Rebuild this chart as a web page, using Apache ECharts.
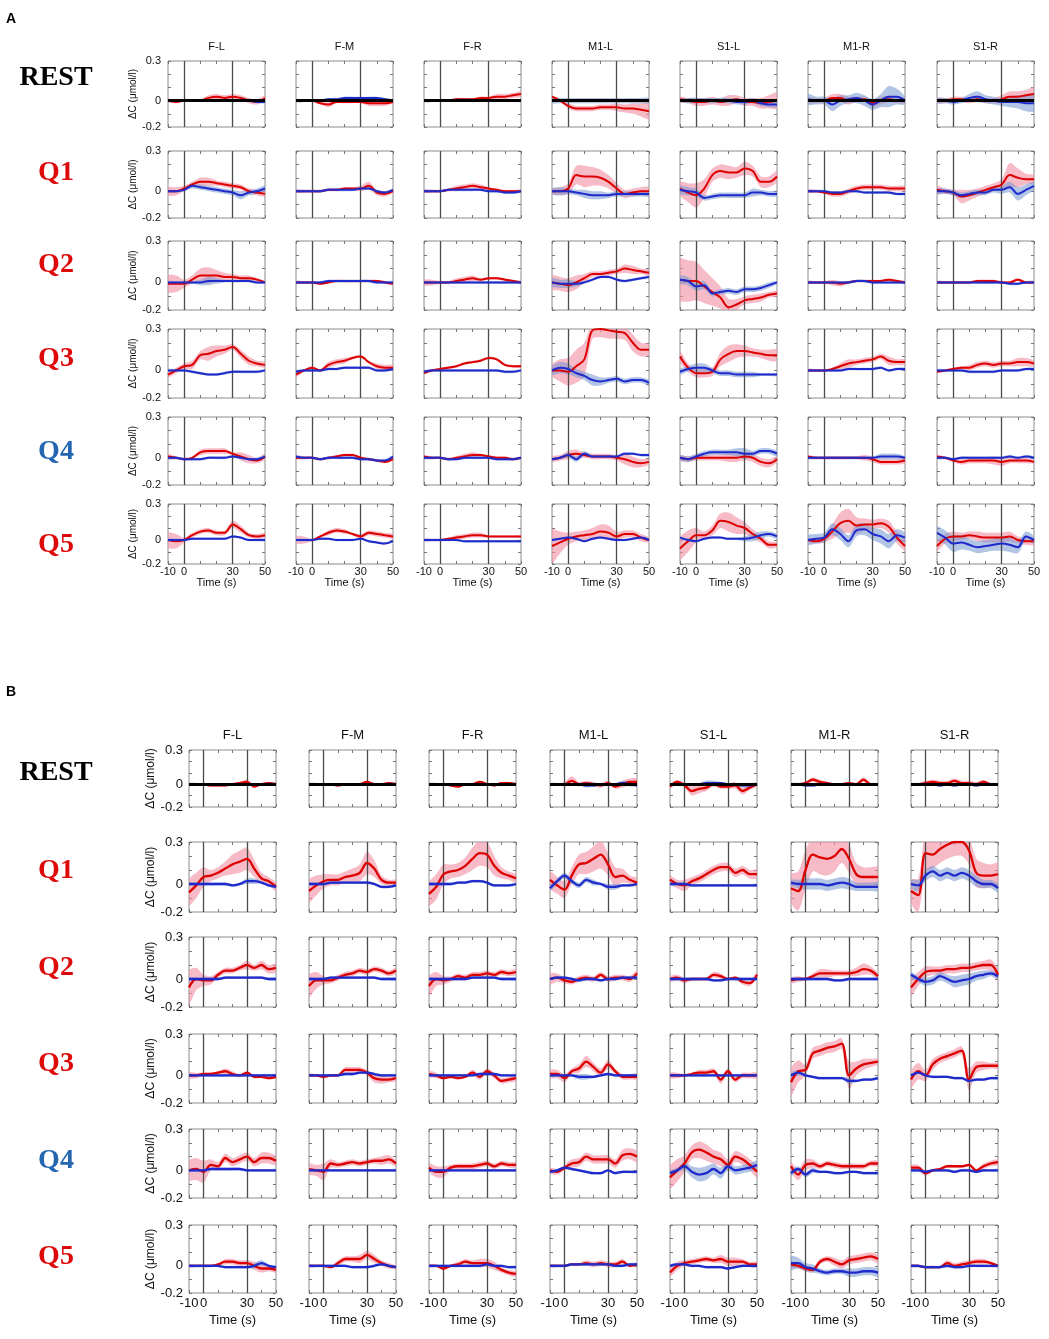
<!DOCTYPE html>
<html>
<head>
<meta charset="utf-8">
<title>Hemodynamic responses</title>
<script src="https://cdn.jsdelivr.net/npm/echarts@6.0.0/dist/echarts.min.js"></script>
<style>
  html, body { margin: 0; padding: 0; background: #fff; }
  #main { width: 1049px; height: 1339px; }
</style>
</head>
<body>
<div id="main"></div>
<script>
// time axis (s) and labels
var timeS = [-10, -5, 0, 5, 10, 15, 20, 25, 30, 35, 40, 45, 50];
var regions = ['F-L', 'F-M', 'F-R', 'M1-L', 'S1-L', 'M1-R', 'S1-R'];
var conditions = ['REST', 'Q1', 'Q2', 'Q3', 'Q4', 'Q5'];
var xTickLabels = [-10, 0, 30, 50];
var yTickLabels = [0.3, 0, -0.2];

// all values below in 0.01 umol/l, one row per region (F-L .. S1-R)
// ---------- panel A ----------
var aRestRed = [
  [0,-1,0,0,0,2,3,2,3,2,0,-1,2],
  [0,0,0,-2,-3,-1,-1,-1,-1,-2,-2,-2,-1],
  [0,0,0,0,1,1,1,2,2,3,3,4,5],
  [3,0,-4,-6,-6,-6,-5,-5,-5,-6,-6,-7,-8],
  [1,0,-1,-1,0,-1,0,1,-1,-1,-2,-1,0],
  [0,0,0,2,2,0,1,1,-2,0,1,0,0],
  [0,0,1,1,0,1,0,0,1,3,3,4,5]
];
var aRestRedBand = [
  [1,1,1,1,1,2,2,2,2,2,2,2,2],
  [1,1,1,1,2,1,1,1,1,2,2,2,1],
  [1,1,1,1,1,1,1,1,1,2,2,2,2],
  [1,1,2,2,2,2,2,2,3,3,4,5,6],
  [2,2,3,3,3,3,4,3,3,3,4,5,6],
  [2,2,2,3,3,3,2,2,3,3,2,2,2],
  [2,2,2,2,2,2,2,2,3,4,4,4,5]
];
var aRestBlue = [
  [0,0,0,0,0,0,0,0,0,0,0,-1,-1],
  [0,0,0,0,1,1,2,2,2,2,2,1,0],
  [0,0,0,0,0,0,0,0,0,0,0,0,0],
  [0,0,0,0,0,0,0,0,0,0,0,0,0],
  [0,0,0,0,0,0,0,-1,-1,0,-2,-3,-3],
  [1,0,0,-3,0,1,2,0,-3,0,3,3,0],
  [0,0,-1,0,2,3,1,0,-1,-1,-1,-2,-2]
];
var aRestBlueBand = [
  [1,1,1,1,1,1,1,1,1,1,1,1,1],
  [1,1,1,1,1,1,1,1,1,1,1,1,1],
  [1,1,1,1,1,1,1,1,1,1,1,1,1],
  [2,2,2,2,2,2,2,2,2,2,2,2,2],
  [1,2,2,2,2,2,2,2,2,2,2,2,2],
  [4,3,3,5,4,3,4,4,4,5,8,6,3],
  [2,2,2,2,3,4,3,3,3,4,5,6,6]
];

var aQ1Red = [
  [0,0,2,5,7,7,6,5,4,3,0,-1,-2],
  [0,0,0,0,1,1,2,2,2,4,-1,-2,0],
  [0,0,0,1,2,3,4,3,2,1,0,0,0],
  [0,0,2,12,11,11,10,7,2,-2,-1,0,0],
  [2,-1,-3,2,12,15,14,14,17,15,7,7,11],
  [0,0,-1,-2,-2,0,2,3,3,3,2,2,2],
  [1,0,-1,-4,-3,-1,1,3,5,12,10,9,9]
];
var aQ1RedBand = [
  [3,3,2,2,3,3,2,2,2,2,2,2,2],
  [1,1,1,1,1,1,1,1,2,3,2,2,1],
  [1,1,1,1,2,2,2,2,1,1,1,1,1],
  [2,3,4,7,8,7,6,5,4,3,3,3,3],
  [5,7,9,7,5,5,5,4,5,4,4,4,4],
  [1,1,1,2,2,2,2,2,2,2,2,2,2],
  [3,2,2,5,4,3,3,3,4,9,7,4,3]
];
var aQ1Blue = [
  [0,0,1,4,3,2,1,0,-1,-3,-1,0,2],
  [0,0,0,0,1,1,1,1,2,2,0,-1,1],
  [0,0,0,1,1,1,1,1,0,0,-1,-1,0],
  [0,0,0,-1,-2,-3,-3,-3,-2,-2,-2,-2,-2],
  [1,0,-1,-5,-4,-3,-3,-3,-3,-1,-1,-2,-2],
  [0,0,0,-1,-1,0,0,-1,-1,-1,-1,-2,-2],
  [0,0,-1,-3,-2,-1,-1,1,1,3,-2,1,4]
];
var aQ1BlueBand = [
  [1,1,1,2,2,2,2,2,2,3,2,2,2],
  [1,1,1,1,1,1,1,1,1,1,1,1,1],
  [1,1,1,1,1,1,1,1,1,1,1,1,1],
  [2,3,2,2,3,3,3,2,2,2,2,2,2],
  [3,3,3,2,2,2,2,2,2,3,2,2,2],
  [1,1,1,1,1,1,1,1,1,1,1,1,1],
  [2,2,2,2,2,2,2,2,3,4,5,4,3]
];

var aQ2Red = [
  [-1,-1,-1,2,5,5,5,4,4,3,3,2,0],
  [0,0,0,-1,0,1,1,1,1,1,1,0,-1],
  [0,0,0,0,1,2,3,2,3,3,2,1,0],
  [0,-1,-2,0,3,6,6,7,8,10,9,8,7],
  [2,1,1,-3,-7,-11,-18,-16,-13,-12,-11,-9,-8],
  [0,0,0,0,-1,0,1,1,1,1,2,1,0],
  [0,0,0,0,0,1,1,1,0,0,2,0,0]
];
var aQ2RedBand = [
  [6,6,3,3,5,6,4,3,2,2,2,1,1],
  [1,1,1,1,1,1,1,1,1,1,1,1,1],
  [2,2,1,1,2,2,2,1,1,1,1,1,1],
  [5,5,5,5,3,2,2,2,2,3,3,2,2],
  [15,15,14,12,10,8,6,4,3,3,3,2,2],
  [1,1,1,2,2,1,1,1,1,1,1,1,1],
  [1,1,1,1,1,1,1,1,1,1,1,1,1]
];
var aQ2Blue = [
  [0,0,0,0,0,1,1,1,1,1,1,0,0],
  [0,0,0,0,1,1,1,1,1,1,0,0,0],
  [0,0,0,0,0,0,0,0,0,0,0,0,0],
  [0,-1,-1,-1,0,2,4,4,2,1,2,3,4],
  [2,1,-3,-2,-8,-7,-6,-7,-5,-5,-4,-2,0],
  [0,0,0,0,0,0,1,1,0,0,0,0,0],
  [0,0,0,0,0,0,0,0,0,-1,-1,0,0]
];
var aQ2BlueBand = [
  [1,1,1,1,2,3,2,1,1,1,1,1,1],
  [1,1,1,1,1,1,1,1,1,1,1,1,1],
  [1,1,1,1,1,1,1,1,1,1,1,1,1],
  [3,3,3,2,1,1,1,1,1,1,1,1,1],
  [3,3,3,3,2,2,2,2,2,2,2,2,1],
  [1,1,1,1,1,1,1,1,1,1,1,1,1],
  [1,1,1,1,1,1,1,1,1,1,1,1,1]
];

var aQ3Red = [
  [-3,0,3,4,11,12,14,15,17,12,7,5,4],
  [-3,0,2,0,4,6,7,9,10,6,3,2,2],
  [-2,0,1,2,3,5,6,7,9,8,4,3,3],
  [0,0,-1,3,8,29,30,29,28,27,20,15,15],
  [10,2,-2,-2,-1,8,12,14,14,13,12,11,11],
  [0,0,0,1,3,5,6,7,8,10,7,6,6],
  [-1,0,1,2,2,4,5,4,5,5,6,6,5]
];
var aQ3RedBand = [
  [2,2,2,3,3,5,4,3,2,3,3,2,2],
  [2,1,1,1,2,2,2,1,1,1,2,2,2],
  [1,1,1,1,1,1,1,1,1,1,1,1,1],
  [4,8,10,12,12,6,6,6,5,5,6,5,4],
  [4,3,3,3,3,5,6,5,4,3,3,4,4],
  [1,1,1,1,2,3,2,2,2,2,3,2,2],
  [1,1,1,1,2,2,2,2,2,2,3,3,2]
];
var aQ3Blue = [
  [0,0,0,-1,-2,-3,-3,-2,-1,-1,-1,-1,0],
  [-1,0,0,0,1,1,2,2,2,2,0,0,1],
  [-1,0,0,0,0,0,0,0,0,0,-1,-1,0],
  [0,2,1,-2,-4,-7,-8,-7,-6,-8,-7,-7,-9],
  [-1,1,2,2,0,-2,-2,-3,-3,-3,-3,-3,-3],
  [0,0,0,0,0,1,1,1,1,2,0,1,1],
  [0,0,0,0,-1,-1,-1,-1,0,0,0,1,1]
];
var aQ3BlueBand = [
  [1,1,1,1,1,1,1,1,1,1,1,1,1],
  [1,1,1,1,1,1,1,1,1,1,1,1,1],
  [1,1,1,1,1,1,1,1,1,1,1,1,1],
  [3,4,4,3,3,4,3,2,2,2,2,2,2],
  [2,2,3,3,2,2,2,2,2,2,1,1,1],
  [1,1,1,1,1,1,1,1,1,1,1,1,1],
  [1,1,1,1,1,1,1,1,1,1,1,1,1]
];

var aQ4Red = [
  [1,0,-1,0,4,5,5,5,3,1,-1,-2,1],
  [0,0,0,-1,0,1,2,2,0,-1,-2,-3,-1],
  [1,0,0,-1,0,1,2,2,1,0,0,-1,0],
  [-1,0,2,3,2,1,1,1,0,-1,-3,-4,-3],
  [0,-1,0,0,0,0,0,0,1,0,-3,-4,-1],
  [1,0,0,0,0,0,0,0,-1,-3,-3,-3,-2],
  [1,0,-2,-3,-2,-2,-2,-2,-3,-2,-2,-2,-3]
];
var aQ4RedBand = [
  [2,1,1,1,2,2,2,2,1,3,3,2,2],
  [1,1,1,1,1,1,1,1,1,1,1,1,1],
  [1,1,1,1,1,2,2,1,1,1,1,1,1],
  [2,2,3,3,2,2,2,2,2,4,4,3,2],
  [2,2,2,2,2,2,3,3,3,3,3,3,2],
  [1,1,1,1,1,1,1,2,2,2,2,2,2],
  [1,1,1,2,2,2,2,3,3,2,2,2,1]
];
var aQ4Blue = [
  [0,0,-1,-1,-1,0,0,0,1,0,-1,-1,1],
  [1,0,0,-1,0,0,0,0,-1,-1,-2,-2,1],
  [0,0,0,-1,-1,0,0,0,0,-1,-1,-1,0],
  [-1,0,2,-1,3,1,1,1,1,3,3,2,2],
  [0,-1,1,3,4,4,4,4,3,3,5,5,3],
  [0,0,0,0,0,0,0,0,0,1,1,1,0],
  [0,0,-1,0,0,0,0,0,0,1,0,1,0]
];
var aQ4BlueBand = [
  [1,1,1,1,1,1,1,1,1,1,1,1,1],
  [1,1,1,1,1,1,1,1,1,1,1,1,1],
  [1,1,1,1,1,1,1,1,1,1,1,1,1],
  [1,1,2,2,2,1,1,1,1,1,1,1,1],
  [2,2,2,2,2,2,2,3,4,2,2,2,2],
  [1,1,1,1,1,1,1,1,1,2,2,2,1],
  [1,1,1,1,1,1,1,1,1,1,1,1,1]
];

var aQ5Red = [
  [0,-1,0,4,7,8,6,6,13,9,4,3,4],
  [0,0,0,3,6,8,7,5,3,6,5,4,3],
  [0,0,0,1,2,3,4,4,3,3,3,3,3],
  [-5,-2,1,3,4,5,7,6,3,5,5,2,0],
  [-7,-1,4,4,8,16,15,12,10,5,1,-4,-4],
  [0,-1,1,7,14,16,12,13,13,14,11,2,-5],
  [-5,1,3,3,4,3,2,2,2,3,0,-1,-1]
];
var aQ5RedBand = [
  [6,6,2,2,2,2,2,2,3,3,2,2,2],
  [3,3,1,1,2,2,2,1,2,2,2,2,2],
  [1,1,1,1,2,2,2,2,1,1,1,1,1],
  [14,9,5,4,4,5,6,6,4,3,3,3,2],
  [9,9,6,3,4,6,8,7,5,4,3,3,2],
  [2,2,3,6,9,10,7,5,4,4,5,5,4],
  [4,4,4,3,3,4,4,4,4,4,3,3,3]
];
var aQ5Blue = [
  [0,0,0,1,1,1,1,1,3,2,0,0,0],
  [0,0,0,1,1,0,0,0,1,-1,-2,-3,-1],
  [0,0,0,0,0,-1,-1,-1,-1,-1,-1,-1,-1],
  [0,1,2,1,-1,1,2,1,0,0,1,2,0],
  [2,0,-1,1,2,2,1,1,1,2,4,5,3],
  [0,1,2,9,5,-1,8,9,5,3,-1,4,2],
  [6,2,-3,-2,-4,-6,-5,-4,-3,-4,-6,3,0]
];
var aQ5BlueBand = [
  [1,1,1,1,1,1,1,1,1,1,1,1,1],
  [1,1,1,1,1,1,1,1,1,1,1,1,1],
  [1,1,1,1,1,1,1,1,1,1,1,1,1],
  [1,1,1,1,1,1,1,1,1,1,1,1,1],
  [1,1,1,1,1,1,1,1,2,3,3,2,2],
  [4,4,4,5,5,5,5,5,5,6,6,5,4],
  [5,6,7,6,5,5,5,5,6,6,5,4,3]
];

// ---------- panel B ----------
var bRestRed = [
  [0,0,0,-1,-1,-1,0,1,2,-2,0,1,0],
  [0,0,0,0,-1,0,0,0,2,0,0,1,0],
  [0,0,0,-1,-2,0,0,2,0,-1,1,1,0],
  [0,0,0,3,0,1,0,-1,1,-2,0,2,2],
  [-2,2,-1,-6,-4,-3,0,-2,-2,-1,-6,-3,0],
  [0,0,1,4,2,1,0,0,1,0,4,0,0],
  [0,0,1,2,1,1,3,1,1,0,2,0,0]
];
var bRestRedBand = [
  [1,1,1,1,1,1,1,1,2,1,1,1,1],
  [1,1,1,1,1,1,1,1,1,1,1,1,1],
  [1,1,1,1,1,1,1,1,1,1,1,1,1],
  [1,1,2,4,2,2,2,2,2,2,3,3,3],
  [2,2,2,4,4,3,2,2,2,3,3,2,2],
  [1,1,1,2,2,1,1,1,1,1,2,1,1],
  [1,1,2,2,2,2,2,2,2,2,2,1,1]
];
var bRestBlue = [
  [0,0,0,0,0,0,0,0,0,0,0,0,0],
  [0,0,0,0,0,0,0,0,0,0,0,0,0],
  [0,0,0,0,0,0,0,0,0,0,0,0,0],
  [0,0,0,0,0,-1,-1,0,0,0,1,0,-1],
  [0,0,0,0,0,1,1,1,0,0,-1,-1,0],
  [0,0,-1,-1,0,0,0,0,0,0,0,0,0],
  [0,0,0,0,-1,0,-1,0,0,-1,0,0,0]
];
var bRestBlueBand = [
  [1,1,1,1,1,1,1,1,1,1,1,1,1],
  [1,1,1,1,1,1,1,1,1,1,1,1,1],
  [1,1,1,1,1,1,1,1,1,1,1,1,1],
  [1,1,1,1,1,2,1,1,1,1,2,2,1],
  [1,1,1,1,1,2,2,1,1,1,2,2,1],
  [1,1,1,1,1,1,1,1,1,1,1,1,1],
  [1,1,1,1,1,1,1,1,1,1,1,1,1]
];

var bQ1Red = [
  [-6,-1,5,6,8,11,14,16,18,11,4,2,-2],
  [-5,-1,2,3,3,5,6,8,15,11,3,1,1],
  [-7,-2,7,9,10,13,18,22,21,13,8,6,4],
  [3,-1,-4,6,14,15,18,21,14,5,6,3,1],
  [3,0,-1,2,4,7,10,12,12,8,10,7,7],
  [-3,-5,10,21,19,18,20,25,18,7,5,5,5],
  [-5,-8,22,21,25,28,30,30,24,8,6,6,7]
];
var bQ1RedBand = [
  [9,9,7,4,4,5,7,8,8,6,4,3,3],
  [8,7,5,4,4,4,5,6,8,6,3,2,2],
  [8,9,7,5,5,6,8,9,9,7,4,3,3],
  [6,6,6,6,7,8,9,10,8,7,5,3,3],
  [3,3,4,3,3,3,3,3,3,3,3,3,3],
  [10,14,14,12,12,12,11,10,10,8,7,7,7],
  [8,12,14,10,10,10,10,10,10,10,9,8,8]
];
var bQ1Blue = [
  [0,0,0,0,0,0,-1,0,2,2,1,-1,-2],
  [0,0,0,1,1,1,1,1,1,0,-2,-2,-1],
  [0,0,0,0,1,1,2,2,1,-1,-1,-1,0],
  [-3,2,6,2,-1,3,1,0,-2,-2,-1,-1,0],
  [0,0,0,-1,-1,-1,-1,-1,-1,-1,-1,-1,-1],
  [1,0,0,0,0,-1,0,1,0,-2,-2,-2,-2],
  [0,-1,6,9,6,8,6,8,6,2,0,0,-3]
];
var bQ1BlueBand = [
  [1,1,1,1,1,1,1,1,2,2,1,1,1],
  [1,1,1,1,1,1,1,1,1,1,1,1,1],
  [1,1,1,1,1,1,1,1,1,1,1,1,1],
  [2,2,2,2,2,2,2,1,2,2,1,1,1],
  [1,1,1,1,1,1,1,1,1,1,1,1,1],
  [2,3,4,4,4,4,4,4,4,3,3,3,3],
  [3,4,4,4,4,4,4,4,4,4,3,3,3]
];

var bQ2Red = [
  [-6,0,-1,-1,3,6,6,8,10,8,10,7,8],
  [-5,-1,-1,-1,1,3,4,6,5,7,6,4,6],
  [-5,0,-1,0,2,1,3,3,4,3,5,4,5],
  [0,1,-1,-2,0,1,0,3,0,1,1,0,4],
  [0,1,-1,0,0,0,3,2,0,1,-2,-3,3],
  [-1,0,0,2,4,4,4,4,4,5,7,6,2],
  [-6,0,5,6,6,7,7,8,8,9,10,10,3]
];
var bQ2RedBand = [
  [12,8,4,3,2,2,2,2,3,2,3,3,3],
  [8,6,3,2,2,2,2,2,2,2,2,2,2],
  [7,5,3,2,2,2,2,2,2,2,2,2,2],
  [4,3,2,2,2,2,2,2,2,2,2,2,2],
  [2,2,2,1,1,1,2,2,1,1,2,2,2],
  [2,2,1,2,3,3,2,2,2,3,4,3,2],
  [6,5,4,3,3,3,3,3,3,3,3,4,4]
];
var bQ2Blue = [
  [0,0,0,0,0,1,1,1,1,1,1,0,0],
  [0,0,0,1,1,1,1,1,1,1,0,0,0],
  [0,0,0,0,0,0,1,1,1,1,0,0,0],
  [0,1,1,0,-1,0,0,-1,0,0,1,1,1],
  [0,0,0,0,0,0,-1,-1,0,0,0,0,0],
  [0,0,0,0,0,0,-1,-1,0,0,0,0,0],
  [3,0,-2,-1,2,0,-2,-1,0,2,3,4,2]
];
var bQ2BlueBand = [
  [1,1,1,1,1,1,1,1,1,1,1,1,1],
  [1,1,1,1,1,1,1,1,1,1,1,1,1],
  [1,1,1,1,1,1,1,1,1,1,1,1,1],
  [1,1,1,1,1,1,1,1,1,1,1,1,1],
  [1,1,1,1,1,1,1,1,1,1,1,1,1],
  [1,1,1,1,1,1,1,1,1,1,1,1,1],
  [2,2,3,3,3,3,4,4,4,3,3,2,2]
];

var bQ3Red = [
  [0,0,1,1,2,3,1,0,2,-1,-1,-2,-1],
  [0,0,-1,0,0,4,4,4,2,-2,-3,-3,-2],
  [1,0,-2,-1,-2,-1,2,-1,3,0,-4,-3,-2],
  [1,1,-2,3,5,10,6,2,8,3,-1,-1,-1],
  [0,0,0,1,2,2,3,-3,3,-3,0,0,0],
  [-5,3,4,16,18,20,21,23,0,5,8,9,10],
  [-3,3,0,8,12,14,16,18,-3,6,7,7,7]
];
var bQ3RedBand = [
  [2,2,1,1,1,2,2,1,1,1,1,1,1],
  [1,1,1,1,1,2,2,2,2,3,3,2,2],
  [2,2,1,1,1,1,2,2,2,2,2,2,2],
  [3,3,3,2,3,4,3,3,3,2,2,2,2],
  [2,2,1,1,2,2,2,3,2,2,2,2,2],
  [10,8,4,4,4,4,4,4,10,5,4,3,2],
  [6,6,4,4,3,3,3,3,8,4,3,2,2]
];
var bQ3Blue = [
  [0,0,0,0,0,0,0,0,0,0,0,0,0],
  [0,0,0,0,0,1,1,2,2,1,0,0,0],
  [0,0,0,0,0,0,0,1,1,1,0,0,0],
  [0,0,0,0,-1,-1,-1,0,1,0,0,0,0],
  [0,0,0,0,0,0,0,0,0,0,0,0,0],
  [0,2,0,-1,-2,-2,-2,-2,-4,-4,-3,-3,-2],
  [0,2,0,-1,-1,-1,-2,-2,-4,-3,-3,-2,-2]
];
var bQ3BlueBand = [
  [1,1,1,1,1,1,1,1,1,1,1,1,1],
  [1,1,1,1,1,1,1,1,1,1,1,1,1],
  [1,1,1,1,1,1,1,1,1,1,1,1,1],
  [1,1,1,1,2,2,1,1,1,1,1,1,1],
  [1,1,1,1,1,1,1,1,1,1,1,1,1],
  [2,2,1,1,1,1,1,1,2,1,1,1,1],
  [1,1,1,1,1,1,1,1,1,1,1,1,1]
];

var bQ4Red = [
  [0,1,-1,4,3,9,6,8,10,6,9,9,7],
  [1,0,-1,5,4,5,6,5,6,7,7,8,5],
  [2,-1,-1,2,3,3,3,4,5,3,5,4,4],
  [0,-1,2,5,6,10,8,8,8,5,11,12,10],
  [-5,0,5,13,15,13,10,8,4,10,8,4,-1],
  [3,-3,4,5,3,5,4,3,3,3,3,5,5],
  [2,2,-2,0,1,3,3,3,4,0,3,5,6]
];
var bQ4RedBand = [
  [7,8,8,4,3,3,3,3,3,3,4,4,3],
  [4,4,6,3,2,2,2,2,2,2,3,3,2],
  [3,4,4,2,2,2,2,2,2,2,2,2,2],
  [2,2,2,3,3,3,3,3,3,3,4,4,4],
  [8,8,6,5,6,6,5,5,4,4,4,4,4],
  [3,4,4,3,2,2,2,2,2,2,2,2,2],
  [2,2,2,1,1,1,1,1,1,1,2,2,2]
];
var bQ4Blue = [
  [0,0,0,1,1,1,1,1,0,0,0,0,0],
  [0,0,0,0,0,0,0,0,0,0,0,0,0],
  [0,0,0,0,0,0,0,0,0,0,0,0,0],
  [-1,0,2,1,0,-1,-2,-2,0,-2,-1,-1,-1],
  [-2,0,3,-1,-3,-2,1,-2,3,0,1,2,4],
  [-2,1,-3,0,-1,-1,-2,-2,-1,-1,-2,-2,-2],
  [0,0,-1,0,0,0,-1,0,0,-1,0,0,0]
];
var bQ4BlueBand = [
  [1,1,1,1,1,1,1,1,1,1,1,1,1],
  [1,1,1,1,1,1,1,1,1,1,1,1,1],
  [1,1,1,1,1,1,1,1,1,1,1,1,1],
  [1,1,1,1,1,1,1,1,1,1,1,1,1],
  [2,2,3,4,5,5,4,4,3,3,3,3,3],
  [2,2,2,2,1,1,1,1,1,1,1,1,1],
  [1,1,1,1,1,1,1,1,1,1,1,1,1]
];

var bQ5Red = [
  [0,0,0,0,1,3,3,2,2,0,-2,-2,-3],
  [0,0,0,-1,2,5,5,5,8,5,2,0,-1],
  [0,0,-2,0,1,3,2,2,2,0,-3,-5,-6],
  [0,0,0,1,1,2,1,2,1,1,3,0,1],
  [-5,0,2,3,4,5,4,5,3,3,3,1,1],
  [1,0,-2,-3,3,5,3,1,4,5,6,7,5],
  [0,0,-1,-1,-1,2,0,1,2,3,3,2,0]
];
var bQ5RedBand = [
  [1,1,1,1,1,2,2,2,2,3,3,2,2],
  [1,1,1,1,2,2,2,3,3,3,2,2,1],
  [1,1,1,1,2,2,2,3,3,3,2,2,2],
  [1,1,1,1,1,2,2,2,2,2,2,1,1],
  [3,3,2,2,2,2,2,3,3,3,2,2,2],
  [2,2,2,2,2,2,3,3,3,3,3,3,3],
  [1,1,1,1,1,2,2,2,2,2,2,1,1]
];
var bQ5Blue = [
  [0,0,0,0,0,-1,-1,-1,-1,0,2,0,-1],
  [0,0,0,0,0,0,-1,-1,-1,0,1,0,-1],
  [0,0,0,0,0,0,0,0,1,0,0,-1,-1],
  [0,0,0,1,1,1,1,1,1,0,0,1,1],
  [0,1,1,0,0,-1,-1,-1,-2,-1,0,0,0],
  [2,2,-1,-2,-4,-5,-4,-4,-5,-5,-4,-4,-5],
  [0,0,-1,-1,-1,0,-1,-1,0,0,0,0,0]
];
var bQ5BlueBand = [
  [1,1,1,1,1,1,1,1,1,2,2,1,1],
  [1,1,1,1,1,1,1,1,1,1,1,1,1],
  [1,1,1,1,1,1,1,1,1,1,1,1,1],
  [1,1,1,1,1,1,1,1,1,1,1,1,1],
  [1,1,1,1,1,1,1,1,1,1,1,1,1],
  [5,4,3,3,2,2,2,2,3,3,3,3,3],
  [1,1,1,1,1,1,1,1,1,1,1,1,1]
];

// ---------- layout ----------
var panelA = {
  letter: 'A', letterY: 19,
  red: [aRestRed, aQ1Red, aQ2Red, aQ3Red, aQ4Red, aQ5Red],
  redBand: [aRestRedBand, aQ1RedBand, aQ2RedBand, aQ3RedBand, aQ4RedBand, aQ5RedBand],
  blue: [aRestBlue, aQ1Blue, aQ2Blue, aQ3Blue, aQ4Blue, aQ5Blue],
  blueBand: [aRestBlueBand, aQ1BlueBand, aQ2BlueBand, aQ3BlueBand, aQ4BlueBand, aQ5BlueBand],
  colLeft: [168, 296, 424, 552, 680, 808, 937], colW: 97,
  rowTop: [61, 151, 241, 329, 417, 504], rowH: [66, 67, 69, 69, 68, 60],
  titleY: 47, rowLabelY: [78, 173, 265, 359, 452, 545],
  fs: 11, titleFs: 11, nameFs: 10, yNameGap: 22, yMargin: 7, xMargin: 2, xNameGap: 13, lw: 2
};
var panelB = {
  letter: 'B', letterY: 692,
  red: [bRestRed, bQ1Red, bQ2Red, bQ3Red, bQ4Red, bQ5Red],
  redBand: [bRestRedBand, bQ1RedBand, bQ2RedBand, bQ3RedBand, bQ4RedBand, bQ5RedBand],
  blue: [bRestBlue, bQ1Blue, bQ2Blue, bQ3Blue, bQ4Blue, bQ5Blue],
  blueBand: [bRestBlueBand, bQ1BlueBand, bQ2BlueBand, bQ3BlueBand, bQ4BlueBand, bQ5BlueBand],
  colLeft: [189, 309, 429, 550, 670, 791, 911], colW: 87,
  rowTop: [750, 842, 937, 1034, 1129, 1225], rowH: [57, 70, 70, 69, 69, 68],
  titleY: 735, rowLabelY: [773, 871, 968, 1064, 1161, 1257],
  fs: 13, titleFs: 13, nameFs: 12, yNameGap: 30, yMargin: 6, xMargin: 4, xNameGap: 21, lw: 2.3
};

var SANS = '"Liberation Sans", Arial, sans-serif';
var SERIF = '"Liberation Serif", "Times New Roman", serif';
var RED = '#dc0000', BLUE = '#1f2acc';
var RED_BAND = 'rgba(242,145,165,0.62)', BLUE_BAND = 'rgba(115,150,208,0.55)';
var rowLabelColor = ['#000000', '#dd0a0a', '#dd0a0a', '#dd0a0a', '#2566b0', '#dd0a0a'];

var chart = echarts.init(document.getElementById('main'));
var grids = [], xAxes = [], yAxes = [], xMirror = [], yMirror = [], series = [], graphics = [];
var tickStyle = { show: true, inside: true, length: 3, lineStyle: { color: '#777' } };

function toPts(vals) {
  return timeS.map(function (t, i) { return [t, vals[i] / 100]; });
}

// shaded band (mean +/- error) drawn as one polygon through the axis scales
function bandRender(params, api) {
  if (params.dataIndex !== 0) return null;
  var n = params.dataInsideLength;
  var upper = [], lower = [];
  for (var j = 0; j < n; j++) {
    upper.push(api.coord([api.value(0, j), api.value(2, j)]));
    lower.push(api.coord([api.value(0, j), api.value(1, j)]));
  }
  var cs = params.coordSys;
  return {
    type: 'polygon',
    shape: { points: upper.concat(lower.reverse()), smooth: 0.3 },
    style: { fill: api.visual('color') },
    clipPath: { type: 'rect', shape: { x: cs.x, y: cs.y, width: cs.width, height: cs.height } },
    silent: true
  };
}

function addBand(idx, vals, bw, color) {
  series.push({
    type: 'custom', xAxisIndex: idx, yAxisIndex: idx, renderItem: bandRender,
    data: timeS.map(function (t, i) { return [t, (vals[i] - bw[i]) / 100, (vals[i] + bw[i]) / 100]; }),
    encode: { x: 0, y: [1, 2] }, itemStyle: { color: color }, silent: true, z: 1
  });
}

function addPanel(p) {
  graphics.push({
    type: 'text', x: 6, y: p.letterY,
    style: { text: p.letter, font: 'bold 14px ' + SANS, fill: '#000', textVerticalAlign: 'middle' }
  });
  regions.forEach(function (reg, c) {
    graphics.push({
      type: 'text', x: p.colLeft[c] + p.colW / 2, y: p.titleY,
      style: { text: reg, font: p.titleFs + 'px ' + SANS, fill: '#111', textAlign: 'center', textVerticalAlign: 'middle' }
    });
  });
  conditions.forEach(function (cond, r) {
    graphics.push({
      type: 'text', x: 56, y: p.rowLabelY[r],
      style: { text: cond, font: 'bold 28px ' + SERIF, fill: rowLabelColor[r], textAlign: 'center', textVerticalAlign: 'middle' }
    });
    for (var c = 0; c < regions.length; c++) {
      var idx = grids.length;
      var isBottom = r === conditions.length - 1, isFirst = c === 0;
      grids.push({
        left: p.colLeft[c], top: p.rowTop[r], width: p.colW, height: p.rowH[r],
        show: true, borderColor: '#8c8c8c', borderWidth: 1, backgroundColor: '#fff'
      });
      xAxes.push({
        type: 'value', gridIndex: idx, min: -10, max: 50, interval: 10,
        axisLine: { show: false, onZero: false }, splitLine: { show: false }, axisTick: tickStyle,
        axisLabel: {
          show: isBottom, fontSize: p.fs, color: '#111', fontFamily: SANS, margin: p.xMargin,
          formatter: function (v) { return xTickLabels.indexOf(v) >= 0 ? String(v) : ''; }
        },
        name: isBottom ? 'Time (s)' : '', nameLocation: 'middle', nameGap: p.xNameGap,
        nameTextStyle: { fontSize: p.fs, color: '#111', fontFamily: SANS }
      });
      yAxes.push({
        type: 'value', gridIndex: idx, min: -0.2, max: 0.3, interval: 0.1,
        axisLine: { show: false, onZero: false }, splitLine: { show: false }, axisTick: tickStyle,
        axisLabel: {
          show: isFirst, fontSize: p.fs, color: '#111', fontFamily: SANS, margin: p.yMargin,
          formatter: function (v) {
            var rv = Math.round(v * 10) / 10;
            return yTickLabels.indexOf(rv) >= 0 ? (rv === 0 ? '0' : String(rv)) : '';
          }
        },
        name: isFirst ? '\u0394C (\u03bcmol/l)' : '', nameLocation: 'middle', nameGap: p.yNameGap,
        nameTextStyle: { fontSize: p.nameFs, color: '#111', fontFamily: SANS }
      });
      // mirrored inner ticks on the top and right edges
      xMirror.push({
        type: 'value', gridIndex: idx, position: 'top', min: -10, max: 50, interval: 10,
        axisLine: { show: false, onZero: false }, splitLine: { show: false },
        axisTick: tickStyle, axisLabel: { show: false }
      });
      yMirror.push({
        type: 'value', gridIndex: idx, position: 'right', min: -0.2, max: 0.3, interval: 0.1,
        axisLine: { show: false, onZero: false }, splitLine: { show: false },
        axisTick: tickStyle, axisLabel: { show: false }
      });

      addBand(idx, p.red[r][c], p.redBand[r][c], RED_BAND);
      addBand(idx, p.blue[r][c], p.blueBand[r][c], BLUE_BAND);

      series.push({
        type: 'line', xAxisIndex: idx, yAxisIndex: idx, data: toPts(p.red[r][c]),
        symbol: 'none', smooth: 0.35, lineStyle: { color: RED, width: p.lw }, silent: true, z: 3,
        markLine: {
          silent: true, symbol: ['none', 'none'], label: { show: false }, z: 2,
          lineStyle: { color: '#4a4a4a', width: 1.3, type: 'solid' },
          data: [{ xAxis: 0 }, { xAxis: 30 }]
        }
      });
      var blueLine = {
        type: 'line', xAxisIndex: idx, yAxisIndex: idx, data: toPts(p.blue[r][c]),
        symbol: 'none', smooth: 0.35, lineStyle: { color: BLUE, width: p.lw }, silent: true, z: 3
      };
      if (r === 0) {
        blueLine.markLine = {
          silent: true, symbol: ['none', 'none'], label: { show: false }, z: 4,
          lineStyle: { color: '#000', width: 3, type: 'solid' },
          data: [{ yAxis: 0 }]
        };
      }
      series.push(blueLine);
    }
  });
}

addPanel(panelA);
addPanel(panelB);

chart.setOption({
  animation: false,
  backgroundColor: '#fff',
  textStyle: { fontFamily: SANS },
  grid: grids,
  xAxis: xAxes.concat(xMirror),
  yAxis: yAxes.concat(yMirror),
  series: series,
  graphic: graphics
});
</script>
</body>
</html>
